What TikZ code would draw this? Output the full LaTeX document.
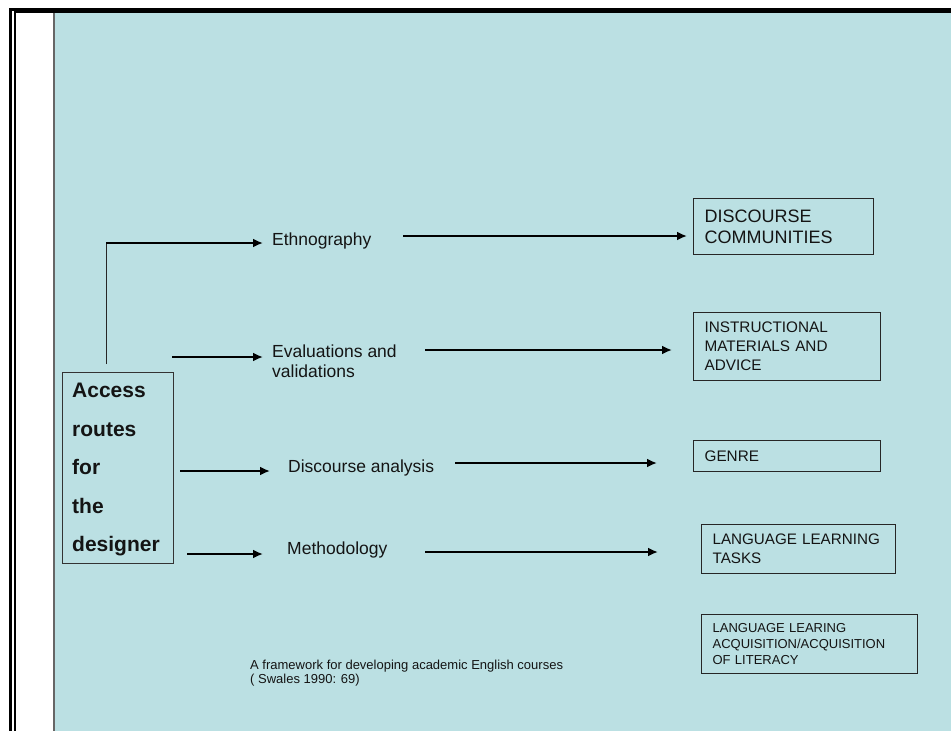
\documentclass[tikz,border=0pt]{standalone}
\usepackage{fontspec}
\setmainfont{Liberation Sans}
\usetikzlibrary{arrows.meta}
\definecolor{bgblue}{RGB}{187,224,227}
\definecolor{txt}{RGB}{20,20,20}
\begin{document}
\begin{tikzpicture}[x=1pt,y=-1pt,
  arr/.style={line width=2.2pt, -{Latex[length=10pt,width=9pt]}},
  lbl/.style={inner sep=0pt, align=left, text=txt, font=\fontsize{17.5}{20}\selectfont},
  rbox/.style={draw=black!85, line width=1.2pt, anchor=north west, inner xsep=11pt, inner ysep=0pt, align=left, text=txt},
  captxt/.style={inner sep=0pt, anchor=north west, align=left, text=txt, font=\fontsize{13}{14.5}\selectfont}
]
\useasboundingbox (0,0) rectangle (951,731);
\fill[white] (0,0) rectangle (951,731);
\fill[bgblue] (55,13) rectangle (960,740);
\draw[black!60, line width=1.5pt] (54,13) -- (54,740);
\draw[line width=2.8pt] (10.7,740) |- (960,9.2);
\draw[line width=2pt] (15,740) |- (960,12.2);

% left box
\node[draw=black!80, line width=1pt, anchor=north west, minimum width=111pt, minimum height=191pt, inner sep=0pt] (acc) at (62,372) {};
\node[inner sep=0pt, anchor=north west, align=left, text=txt, font=\fontsize{21}{38.5}\selectfont\bfseries] (acct) at (72,383) {Access\\routes\\for\\the\\designer};

% middle labels
\node[lbl, anchor=base west] (eth) at (272,245) {Ethnography};
\node[lbl, anchor=north west] (eval) at (272,344.5) {Evaluations and\\validations};
\node[lbl, anchor=base west] (disc) at (288,472) {Discourse analysis};
\node[lbl, anchor=base west] (meth) at (287,554) {Methodology};

% right boxes
\node[rbox, minimum width=180pt, minimum height=56pt, text width=158pt, font=\fontsize{18}{21}\selectfont] (dc) at (693,198) {DISCOURSE\\COMMUNITIES};
\node[rbox, minimum width=187pt, minimum height=68pt, text width=165pt, font=\fontsize{15.3}{19}\selectfont] (ins) at (693,312) {INSTRUCTIONAL\\MATERIALS~AND\\ADVICE};
\node[rbox, minimum width=187pt, minimum height=31pt, text width=165pt, font=\fontsize{15.3}{19}\selectfont] (gen) at (693,440) {GENRE};
\node[rbox, minimum width=194pt, minimum height=49pt, text width=172pt, font=\fontsize{15.2}{19}\selectfont] (llt) at (701,524) {LANGUAGE~LEARNING\\TASKS};
\node[rbox, minimum width=216pt, minimum height=59pt, text width=194pt, font=\fontsize{13}{15.8}\selectfont] (lla) at (701,614) {LANGUAGE~LEARING\\ACQUISITION/ACQUISITION\\OF~LITERACY};

% caption
\node[captxt] (capt) at (250,659.5) {A framework for developing academic English courses\\( Swales 1990: 69)};

% connector coordinates
\coordinate (v0) at (106,364);
\coordinate (v1) at (106,243);
\coordinate (s2) at (172,357);
\coordinate (s3) at (180,471);
\coordinate (s4) at (187,554);
\coordinate (r1) at (403,236);
\coordinate (r2) at (425,350);
\coordinate (r3) at (455,463);
\coordinate (r4) at (425,552);

% left arrows
\draw[line width=1pt, black!85] (v0) -- ([yshift=-0.5pt]v1);
\draw[arr, shorten >=9pt] (v1) -- (v1 -| eth.west);
\draw[arr, shorten >=9pt] (s2) -- (s2 -| eval.west);
\draw[arr, shorten >=18pt] (s3) -- (s3 -| disc.west);
\draw[arr, shorten >=24pt] (s4) -- (s4 -| meth.west);

% right arrows
\draw[arr, shorten >=6pt] (r1) -- (r1 -| dc.west);
\draw[arr, shorten >=21pt] (r2) -- (r2 -| ins.west);
\draw[arr, shorten >=36pt] (r3) -- (r3 -| gen.west);
\draw[arr, shorten >=43pt] (r4) -- (r4 -| llt.west);
\end{tikzpicture}
\end{document}
